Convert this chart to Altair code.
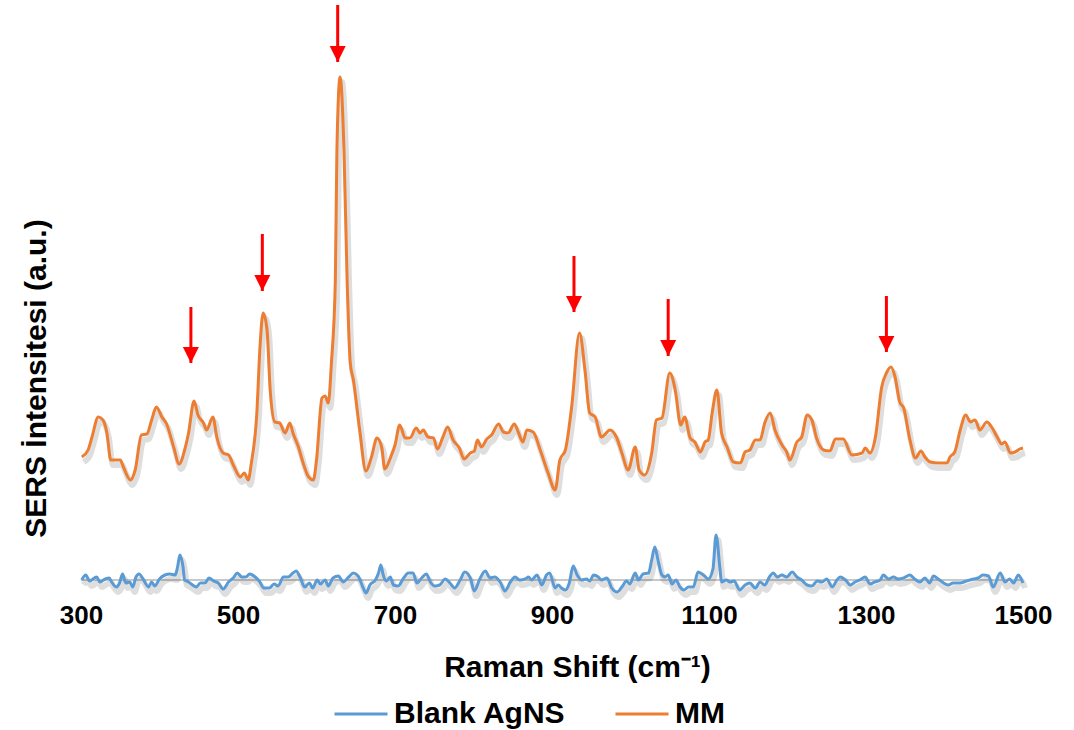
import altair as alt
import pandas as pd

# ---- MM spectrum (Raman shift cm-1, intensity a.u.) ----
mm_shift = [301, 309, 314, 322, 328, 333, 338, 350, 354, 363, 369, 377, 384, 390, 396, 403, 409, 418,
            425, 432, 437, 444, 449, 456, 460, 468, 473, 481, 488, 494, 503, 508, 513, 517, 524, 528,
            532, 537, 541, 547, 553, 560, 566, 570, 577, 583, 590, 596, 600, 607, 611, 615, 619, 624,
            626, 630, 635, 639, 643, 647, 655, 663, 670, 677, 683, 687, 695, 700, 706, 713, 719, 727,
            732, 736, 742, 749, 754, 761, 767, 774, 782, 788, 796, 801, 805, 810, 817, 823, 832, 838,
            844, 852, 857, 863, 868, 876, 885, 895, 904, 910, 917, 925, 935, 942, 948, 955, 963, 974,
            982, 989, 997, 1006, 1011, 1018, 1027, 1033, 1040, 1050, 1057, 1064, 1069, 1076, 1082,
            1089, 1095, 1099, 1104, 1110, 1116, 1123, 1131, 1140, 1146, 1152, 1159, 1165, 1171, 1178,
            1184, 1193, 1199, 1203, 1212, 1218, 1225, 1231, 1237, 1246, 1254, 1261, 1271, 1282, 1295,
            1299, 1305, 1312, 1320, 1326, 1332, 1337, 1343, 1348, 1356, 1363, 1370, 1375, 1382, 1392,
            1403, 1407, 1413, 1420, 1427, 1433, 1439, 1445, 1454, 1460, 1467, 1473, 1477, 1484, 1490,
            1496, 1500]
mm_intensity = [123, 130, 143, 163, 160, 147, 120, 120, 113, 100, 110, 145, 146, 160, 173, 163, 156, 133,
                116, 130, 147, 179, 165, 157, 150, 163, 143, 127, 125, 115, 103, 107, 100, 117, 167, 233,
                267, 250, 190, 158, 157, 147, 157, 147, 133, 117, 103, 100, 120, 182, 184, 177, 217, 300,
                430, 503, 430, 300, 217, 200, 150, 109, 123, 142, 133, 111, 124, 135, 155, 142, 142, 152,
                147, 150, 143, 142, 131, 143, 153, 140, 132, 121, 127, 129, 140, 133, 141, 145, 156, 148,
                147, 156, 148, 138, 150, 148, 130, 107, 90, 120, 130, 173, 247, 210, 167, 163, 143, 150,
                143, 127, 110, 133, 110, 105, 127, 160, 162, 207, 190, 155, 163, 142, 138,
                128, 138, 140, 167, 190, 147, 133, 118, 117, 128, 130, 140, 140, 157, 167,
                150, 135, 128, 120, 138, 143, 165, 160, 142, 130, 129, 141, 141, 125, 127,
                132, 127, 143, 193, 207, 213, 203, 178, 172, 140, 122, 129, 123, 118, 117,
                117, 123, 128, 150, 165, 158, 160, 150, 158, 153, 143, 136, 138, 127, 128,
                131, 132]

# ---- Blank AgNS spectrum ----
blank_shift = [301, 306, 311, 317, 320, 324, 331, 336, 339, 345, 349, 353, 357, 362, 366, 370, 374, 379,
               386, 390, 394, 400, 407, 413, 420, 423, 426, 430, 432, 437, 447, 452, 458, 463, 469, 475,
               481, 488, 494, 499, 505, 510, 515, 522, 527, 533, 540, 546, 551, 558, 564, 570, 574, 579,
               585, 591, 595, 601, 605, 611, 615, 621, 628, 634, 641, 647, 653, 659, 663, 668, 675, 679,
               682, 685, 689, 694, 698, 704, 711, 717, 723, 728, 734, 740, 745, 751, 757, 764, 770, 776,
               783, 789, 796, 801, 808, 815, 821, 827, 834, 840, 847, 853, 859, 866, 870, 874, 881, 887,
               893, 897, 904, 908, 912, 917, 922, 927, 932, 938, 944, 948, 953, 959, 963, 970, 976, 983,
               989, 995, 999, 1006, 1010, 1016, 1023, 1027, 1031, 1035, 1040, 1044, 1048, 1053, 1058,
               1063, 1068, 1074, 1080, 1086, 1093, 1099, 1105, 1109, 1114, 1116, 1122, 1127, 1132, 1139,
               1146, 1152, 1159, 1165, 1171, 1177, 1182, 1187, 1193, 1199, 1206, 1212, 1218, 1225, 1231,
               1238, 1244, 1250, 1257, 1263, 1267, 1274, 1280, 1286, 1292, 1299, 1305, 1311, 1318, 1322,
               1329, 1335, 1341, 1348, 1356, 1362, 1369, 1375, 1381, 1386, 1392, 1399, 1405, 1411, 1420,
               1428, 1437, 1443, 1449, 1456, 1462, 1471, 1477, 1483, 1488, 1494, 1500]
blank_intensity = [0, 5, -1, 2, 3, -2, 1, 2, -2, -7, -3, 6, -3, -2, -7, 3, 6, 1,
                   -7, -2, -6, 1, 5, 6, 5, 13, 25, 13, 0, -2, -7, -3, -3, 2, -1, -3,
                   -9, -2, 2, 7, 3, 3, 6, 3, -1, -8, -8, -4, -6, 3, 3, 7, 9, 3,
                   -7, -3, -8, 0, -4, 0, -6, 2, 4, -2, 3, 7, 4, -7, -13, -5, 0, 7,
                   15, 5, -1, 3, -5, -6, 2, 7, 7, -3, 2, 6, -2, -6, -5, 1, -3, -8,
                   0, 8, 2, -11, 1, 9, 2, 3, -2, -11, -2, 3, 0, 1, 3, 0, 5, -5,
                   5, 7, -8, -5, -8, -10, -3, 14, 5, 0, 1, -1, 5, 3, 0, 2, -8, -12,
                   -7, -1, -4, 7, 0, 6, 7, 20, 33, 20, 5, 3, 5, -4, 0,
                   -7, -10, -7, -7, 8, 5, 1, 11, 45, 11, -2, 0, -2, -1, -10,
                   -5, -3, -8, -2, -5, 3, 7, 3, 5, 3, 8, 3, 0, -5, -6,
                   -1, -2, 1, -7, 0, 3, 0, -5, -2, 0, 3, -4, -2, 0, 5,
                   1, 3, 1, 2, 5, 1, -2, 2, -3, 4, 1, -3, -5, -3, -3,
                   -1, 1, 2, 5, 4, -7, 7, -2, 1, -3, 5, -3]

# ---- peak markers (red arrows) ----
arrow_shift = [440, 531, 627, 928, 1048, 1326]
arrow_top = [273, 346, 575, 324, 281, 284]
arrow_tip = [217, 289, 518, 268, 224, 228]

x_ticks = [300, 500, 700, 900, 1100, 1300, 1500]
series_names = ["Blank AgNS", "MM"]
series_colors = ["#5B9BD5", "#ED7D31"]

FONT = "Liberation Sans"

df = pd.concat([
    pd.DataFrame({"shift": blank_shift, "intensity": blank_intensity, "series": "Blank AgNS"}),
    pd.DataFrame({"shift": mm_shift, "intensity": mm_intensity, "series": "MM"}),
], ignore_index=True)

arrows = pd.DataFrame({"shift": arrow_shift, "top": arrow_top, "tip": arrow_tip})
baseline = pd.DataFrame({"shift": [300], "shift2": [1500], "zero": [0]})

x_scale = alt.Scale(domain=[300, 1500], nice=False, zero=False)
y_scale = alt.Scale(domain=[-20, 580], nice=False, zero=False)

x_axis = alt.Axis(
    values=x_ticks, format="d", grid=False, ticks=False, domain=False, labelFlush=False,
    labelFont=FONT, labelFontSize=26, labelFontWeight="bold", labelColor="black",
    labelPadding=2,
    title="Raman Shift (cm\u207b\u00b9)", titleFont=FONT, titleFontSize=30,
    titleFontWeight="bold", titleColor="black",
    titleX=496, titleY=76, titleAlign="center", titleBaseline="alphabetic",
)
y_axis = alt.Axis(
    labels=False, grid=False, ticks=False, domain=False,
    title="SERS \u0130ntensitesi (a.u.)", titleFont=FONT, titleFontSize=30,
    titleFontWeight="bold", titleColor="black",
    titleX=-36, titleY=378, titleAngle=270, titleAlign="center", titleBaseline="alphabetic",
)

base = alt.Chart(df)

zero_line = alt.Chart(baseline).mark_rule(color="#C8C8C8", strokeWidth=2).encode(
    x=alt.X("shift:Q", scale=x_scale, axis=x_axis),
    x2="shift2:Q",
    y=alt.Y("zero:Q", scale=y_scale, axis=y_axis),
)

shadow = base.mark_line(interpolate="monotone", color="#000000", opacity=0.13,
                        strokeWidth=6, xOffset=2, yOffset=5).encode(
    x=alt.X("shift:Q", scale=x_scale),
    y=alt.Y("intensity:Q", scale=y_scale),
    detail="series:N",
    order="shift:Q",
)

lines = base.mark_line(interpolate="monotone", strokeWidth=3).encode(
    x=alt.X("shift:Q", scale=x_scale),
    y=alt.Y("intensity:Q", scale=y_scale),
    color=alt.Color(
        "series:N",
        scale=alt.Scale(domain=series_names, range=series_colors),
        legend=alt.Legend(
            title=None, orient="none", direction="horizontal",
            legendX=252, legendY=686,
            symbolType="stroke", symbolSize=2809, symbolStrokeWidth=3,
            labelFont=FONT, labelFontSize=30, labelFontWeight="bold", labelColor="black",
            labelOffset=5, columnPadding=43, labelLimit=0,
        ),
    ),
    order="shift:Q",
)

shafts = alt.Chart(arrows).mark_rule(color="#FF0000", strokeWidth=3).encode(
    x=alt.X("shift:Q", scale=x_scale),
    y=alt.Y("top:Q", scale=y_scale),
    y2="tip:Q",
)
heads = alt.Chart(arrows).mark_point(
    shape="M-1,-1L1,-1L0,1Z", size=256, filled=True, color="#FF0000", opacity=1, yOffset=-8,
).encode(
    x=alt.X("shift:Q", scale=x_scale),
    y=alt.Y("tip:Q", scale=y_scale),
)

chart = alt.layer(zero_line, shadow, lines, shafts, heads).properties(
    width=942, height=600,
    autosize=alt.AutoSizeParams(type="none"),
    padding={"left": 81, "top": 0, "right": 51, "bottom": 130},
    background="white",
).configure_view(stroke=None)

chart.save("out.html", embed_options={"renderer": "svg", "actions": False})
